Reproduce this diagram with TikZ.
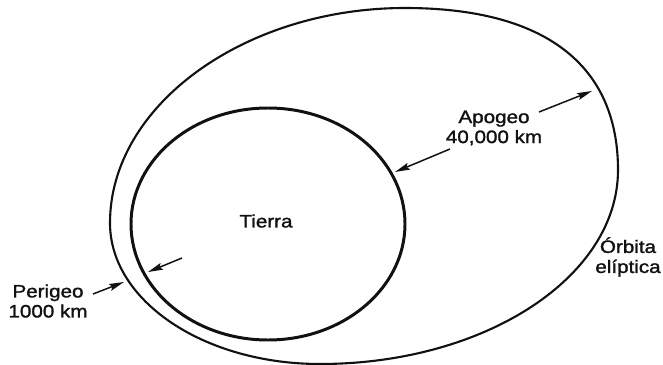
\documentclass[tikz,border=0pt]{standalone}
\usepackage{fontspec}
\setmainfont{Liberation Sans}[FakeStretch=1.15, FakeBold=1.5]
\usepackage{tikz}
\usetikzlibrary{arrows.meta, positioning, calc}
\definecolor{ink}{HTML}{111111}

\begin{document}
\begin{tikzpicture}[x=0.02cm, y=-0.02cm,
  label/.style={ink, align=center, inner sep=0pt, font=\fontsize{10.2}{11.4}\selectfont},
  pointer/.style={ink, line width=0.85pt, -{Stealth[length=8.5pt, width=4pt, inset=1.4pt]}}]
  % Frame (picture size in pixels)
  \useasboundingbox (0,0) rectangle (663,365);
  % Earth
  \draw[ink, line width=1.7pt] (268,224) ellipse [x radius=137, y radius=116];
  \node[label] (tierra) at (266,221) {Tierra};
  % Elliptic orbit (left, top, right and bottom extremes)
  \draw[ink, line width=1.2pt] (110,223)
    .. controls (110,105) and (245,8) .. (405,8)
    .. controls (545,8) and (618,65) .. (618,170)
    .. controls (618,277) and (485,364) .. (320,364)
    .. controls (204,364) and (110,301) .. cycle;
  \node[label] (orbita) at (628,257) {Órbita\\elíptica};
  % Apogee
  \node[label] (apogeo) at (494,128) {Apogeo\\40,000 km};
  \coordinate (apo-orb) at (592,91);
  \coordinate (apo-earth) at (395,172);
  \coordinate (apo-a) at (539,112);
  \coordinate (apo-b) at (450,149);
  \draw[pointer] (apo-a) -- (apo-orb);
  \draw[pointer] (apo-b) -- (apo-earth);
  % Perigee
  \node[label] (perigeo) at (48,301) {Perigeo\\1000 km};
  \coordinate (per-orb) at (124,282);
  \coordinate (per-earth) at (148,272);
  \coordinate (per-a) at (93,294);
  \coordinate (per-b) at (182,258);
  \draw[pointer] (per-a) -- (per-orb);
  \draw[pointer] (per-b) -- (per-earth);
\end{tikzpicture}
\end{document}
